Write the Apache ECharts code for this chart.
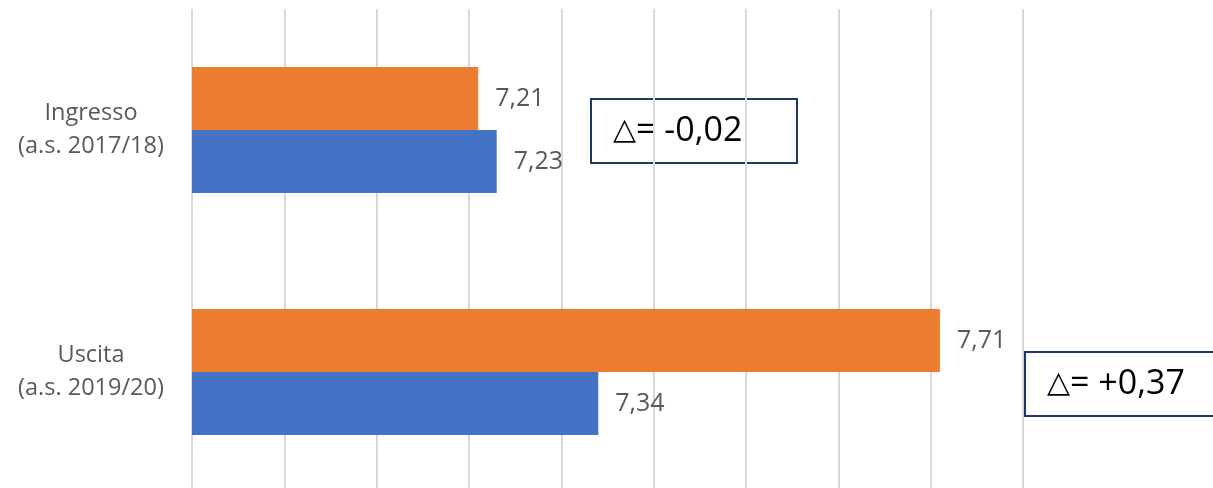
<!DOCTYPE html>
<html>
<head>
<meta charset="utf-8">
<script src="https://cdn.jsdelivr.net/npm/echarts@6/dist/echarts.min.js"></script>
<style>
html,body{margin:0;padding:0;background:#fff;}
#chart{width:1213px;height:488px;}
</style>
</head>
<body>
<div id="chart"></div>
<script>
const categories = ['Ingresso\n(a.s. 2017/18)', 'Uscita\n(a.s. 2019/20)'];
const orangeValues = [7.21, 7.71];
const blueValues = [7.23, 7.34];
const deltaSymbol = '\u25B3';
const deltaTexts = ['= -0,02', '= +0,37'];
const axisMin = 6.9, axisMax = 7.8, axisInterval = 0.1;

const chart = echarts.init(document.getElementById('chart'));
const fmt = p => p.value.toFixed(2).replace('.', ',');
const labelStyle = {
  show: true, position: 'right', distance: 17, formatter: fmt,
  color: '#595959', fontSize: 25, fontFamily: 'Open Sans'
};
function box(x, y, w, h, txt) {
  return {
    type: 'group', left: x, top: y,
    children: [
      { type: 'rect', shape: { x: 0, y: 0, width: w, height: h },
        style: { fill: '#fff', stroke: '#1F3864', lineWidth: 2 } },
      { type: 'text', x: 22, y: h / 2,
        style: {
          text: '{t|' + deltaSymbol + '}{v|' + txt + '}',
          verticalAlign: 'middle',
          rich: {
            t: { fill: '#000', fontSize: 30, fontFamily: 'DejaVu Sans' },
            v: { fill: '#000', fontSize: 34, fontFamily: 'Open Sans' }
          }
        } }
    ]
  };
}
chart.setOption({
  animation: false,
  grid: { left: 192, width: 831, top: 9, height: 484, containLabel: false, outerBoundsMode: 'none' },
  xAxis: {
    type: 'value', min: axisMin, max: axisMax, interval: axisInterval,
    axisLine: { show: false }, axisTick: { show: false }, axisLabel: { show: false },
    splitLine: { show: true, lineStyle: { color: '#D9D9D9', width: 2 } }
  },
  yAxis: {
    type: 'category', data: categories, inverse: true,
    axisLine: { show: false }, axisTick: { show: false },
    axisLabel: { align: 'center', margin: 101, color: '#595959', fontSize: 23.5,
      fontFamily: 'Open Sans', lineHeight: 33 }
  },
  series: [
    { type: 'bar', data: orangeValues, barWidth: 63, barGap: '0%',
      itemStyle: { color: '#ED7D31' }, label: labelStyle },
    { type: 'bar', data: blueValues, barWidth: 63, barGap: '0%',
      itemStyle: { color: '#4472C4' }, label: labelStyle }
  ],
  graphic: [
    box(590, 98, 206, 64, deltaTexts[0]),
    box(1024, 351, 200, 64, deltaTexts[1])
  ]
});
</script>
</body>
</html>
